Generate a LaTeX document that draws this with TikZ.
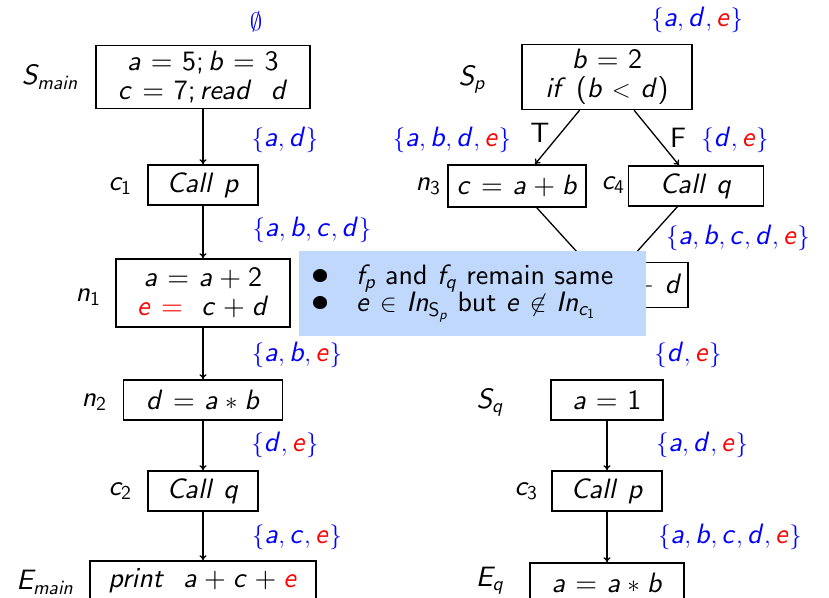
\documentclass[tikz,border=0pt]{standalone}
\usepackage{xcolor}
\usetikzlibrary{arrows.meta,positioning}
\definecolor{note}{HTML}{BFD8FC}
\newcommand{\rv}[1]{\textcolor{red}{#1}}
% sans serif maths, as on the slide (cmss10 at every size)
\DeclareFontFamily{OT1}{cmss}{\hyphenchar\font45}
\DeclareFontShape{OT1}{cmss}{m}{n}{<-> cmss10}{}
\DeclareFontShape{OT1}{cmss}{m}{sl}{<-> cmssi10}{}
\DeclareSymbolFont{sfit}{OT1}{cmss}{m}{sl}
\SetSymbolFont{operators}{normal}{OT1}{cmss}{m}{n}
\newcommand{\sfletter}[1]{\DeclareMathSymbol{#1}{\mathalpha}{sfit}{`#1}}
\sfletter a\sfletter b\sfletter c\sfletter d\sfletter e\sfletter f\sfletter i
\sfletter l\sfletter m\sfletter n\sfletter p\sfletter q\sfletter r\sfletter t
\sfletter C\sfletter E\sfletter I\sfletter S
\newcommand{\slidefont}{\fontencoding{OT1}\fontfamily{cmss}\fontseries{m}\fontshape{n}\fontsize{28}{29}\selectfont
  \thickmuskip=7mu plus 3mu\medmuskip=5mu plus 2mu}
\newcommand{\bulletmark}{\makebox[45pt][l]{\raisebox{-0.04em}{\scalebox{1.3}{\textbullet}}}}

\begin{document}
\begin{tikzpicture}[
  x=1pt, y=-1pt,
  >={To[length=5pt, width=7pt]},
  font=\slidefont,
  box/.style={draw, line width=1.5pt, minimum height=40, inner sep=1pt, align=center},
  tag/.style={inner sep=1pt},
  io/.style={text=blue, inner sep=1pt},
  arr/.style={->, line width=1.3pt},
]
\useasboundingbox (0,0) rectangle (829,597);

% main
\node[box, minimum width=214, minimum height=63] (smain) at (203,77) {$a = 5; b = 3$\\$c = 7; read~~d$};
\node[box, minimum width=110] (c1) at (203,185) {$Call~p$};
\node[box, minimum width=174, minimum height=68] (n1) at (203,293) {$a = a + 2$\\$\rv{e =}~~c + d$};
\node[box, minimum width=159] (n2) at (203,400) {$d = a * b$};
\node[box, minimum width=110] (c2) at (203,491) {$Call~q$};
\node[box, minimum width=226] (emain) at (203,581) {$print~~a + c + \rv{e}$};

\node[tag] (smainl) at (50,77) {$S_{main}$};
\node[tag] (c1l) at (120,186) {$c_1$};
\node[tag] (n1l) at (88,297) {$n_1$};
\node[tag] (n2l) at (94,402) {$n_2$};
\node[tag] (c2l) at (120,491) {$c_2$};
\node[tag] (emainl) at (45,582) {$E_{main}$};

\draw[arr] (smain) -- (c1);
\draw[arr] (c1) -- (n1);
\draw[arr] (n1) -- (n2);
\draw[arr] (n2) -- (c2);
\draw[arr] (c2) -- (emain);

\node[io] (s0) at (256,22) {$\emptyset$};
\node[io] (s1) at (285,140) {$\{a, d\}$};
\node[io] (s2) at (312,230) {$\{a, b, c, d\}$};
\node[io] (s3) at (297,355) {$\{a, b, \rv{e}\}$};
\node[io] (s4) at (285,445) {$\{d, \rv{e}\}$};
\node[io] (s5) at (297,537) {$\{a, c, \rv{e}\}$};

% p
\node[box, minimum width=170, minimum height=65] (sp) at (607,77) {$b = 2$\\$if~(b < d)$};
\node[box, minimum width=138, minimum height=42] (n3) at (517,186) {$c = a + b$};
\node[box, minimum width=135] (c4) at (696,186) {$Call~q$};
\node[box, minimum width=162, minimum height=45, text width=150, align=right] (ep) at (607,285) {${}+ d$};

\node[tag] (spl) at (472,80) {$S_p$};
\node[tag] (n3l) at (428,186) {$n_3$};
\node[tag] (c4l) at (613,185) {$c_4$};
\node[tag] (tl) at (540,133) {T};
\node[tag] (fl) at (678,138) {F};

\draw[arr] (sp) -- (n3);
\draw[arr] (sp) -- (c4);
\draw[arr] (n3) -- (ep);
\draw[arr] (c4) -- (ep);

\node[io] (p0) at (697,20) {$\{a, d, \rv{e}\}$};
\node[io] (p1) at (452,140) {$\{a, b, d, \rv{e}\}$};
\node[io] (p2) at (735,140) {$\{d, \rv{e}\}$};
\node[io] (p3) at (738,238) {$\{a, b, c, d, \rv{e}\}$};

% q
\node[box, minimum width=112] (sq) at (607,400) {$a = 1$};
\node[box, minimum width=110] (c3) at (607,491) {$Call~p$};
\node[box, minimum width=154] (eq) at (607,583) {$a = a * b$};

\node[tag] (sql) at (490,403) {$S_q$};
\node[tag] (c3l) at (526,491) {$c_3$};
\node[tag] (eql) at (490,581) {$E_q$};

\draw[arr] (sq) -- (c3);
\draw[arr] (c3) -- (eq);

\node[io] (q0) at (688,355) {$\{d, \rv{e}\}$};
\node[io] (q1) at (702,445) {$\{a, d, \rv{e}\}$};
\node[io] (q2) at (730,537) {$\{a, b, c, d, \rv{e}\}$};

% remark
\node[fill=note, minimum width=347, minimum height=85, text width=323, inner xsep=12pt, align=left,
  font=\slidefont\fontsize{28}{27}\selectfont] (rem) at (472.5,293.5)
  {\bulletmark$f_p$ and $f_q$ remain same\\
   \bulletmark$e \in In_{\mathsf{S}_p}$ but $e \not\in In_{c_1}$};
\end{tikzpicture}
\end{document}
